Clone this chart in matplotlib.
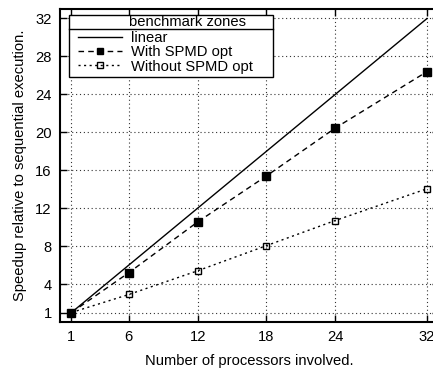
import numpy as np
import matplotlib
matplotlib.use('Agg')
import matplotlib.pyplot as plt
from matplotlib.lines import Line2D
from matplotlib.patches import Rectangle

plt.rcParams['font.family'] = ['Liberation Sans', 'DejaVu Sans']
plt.rcParams['font.size'] = 10.6

# data
procs = [1, 6, 12, 18, 24, 32]
linear = [1, 32]
linear_x = [1, 32]
with_spmd = [1, 5.2, 10.55, 15.4, 20.45, 26.4]
without_spmd = [1, 2.9, 5.4, 8.05, 10.7, 14.05]
x_ticks = [1, 6, 12, 18, 24, 32]
y_ticks = [1, 4, 8, 12, 16, 20, 24, 28, 32]

fig = plt.figure(figsize=(4.33, 3.68), dpi=100)
ax = fig.add_axes([60/433, 1 - 322/368, (438.5-60)/433, (322-9)/368])

ax.plot(linear_x, linear, '-', color='black', lw=1.0, label='linear')
ax.plot(procs, with_spmd, '--', color='black', lw=1.0, marker='s', ms=5.5,
        mfc='black', mec='black', dashes=(4, 3), label='With SPMD opt')
ax.plot(procs, without_spmd, ':', color='black', lw=1.0, marker='s', ms=5,
        mfc='none', mec='black', mew=1.0, dashes=(1.5, 2.5), label='Without SPMD opt')

ax.set_xlim(0, 33)
ax.set_ylim(0, 33)
ax.set_xticks(x_ticks)
ax.set_yticks(y_ticks)
ax.grid(True, linestyle=(0, (1, 2.5)), color='#333333', lw=0.8)
ax.tick_params(direction='in', length=5, width=1, top=True, right=True, pad=6,
               labelsize=10.6)
for s in ax.spines.values():
    s.set_linewidth(1.5)

ax.set_xlabel('Number of processors involved.', labelpad=7)
ax.set_ylabel('Speedup relative to sequential execution.', labelpad=6)

# gnuplot-style key: box with a title row on top
def px(x, y):
    return (x - 60) / 378.5, (322 - y) / 313

bx0, by0 = px(69, 77)
bx1, by1 = px(273, 15)
ax.add_patch(Rectangle((bx0, by0), bx1 - bx0, by1 - by0, transform=ax.transAxes,
                       facecolor='white', edgecolor='black', lw=1.0, zorder=5))
sx, sy = px(69, 29)
ax.add_line(Line2D([bx0, bx1], [sy, sy], transform=ax.transAxes, color='black',
                   lw=1.0, zorder=6))
tx, ty = px(129, 22)
ax.text(tx, ty, 'benchmark zones', transform=ax.transAxes, va='center', ha='left',
        zorder=6)

lx, ly = px(78, 31)
leg = ax.legend(loc='upper left', bbox_to_anchor=(lx, ly), borderaxespad=0,
                frameon=False, handlelength=3.0, handletextpad=0.6,
                borderpad=0, labelspacing=0.02, markerscale=0.85)
leg.set_zorder(7)

fig.savefig('out.png', dpi=100)
